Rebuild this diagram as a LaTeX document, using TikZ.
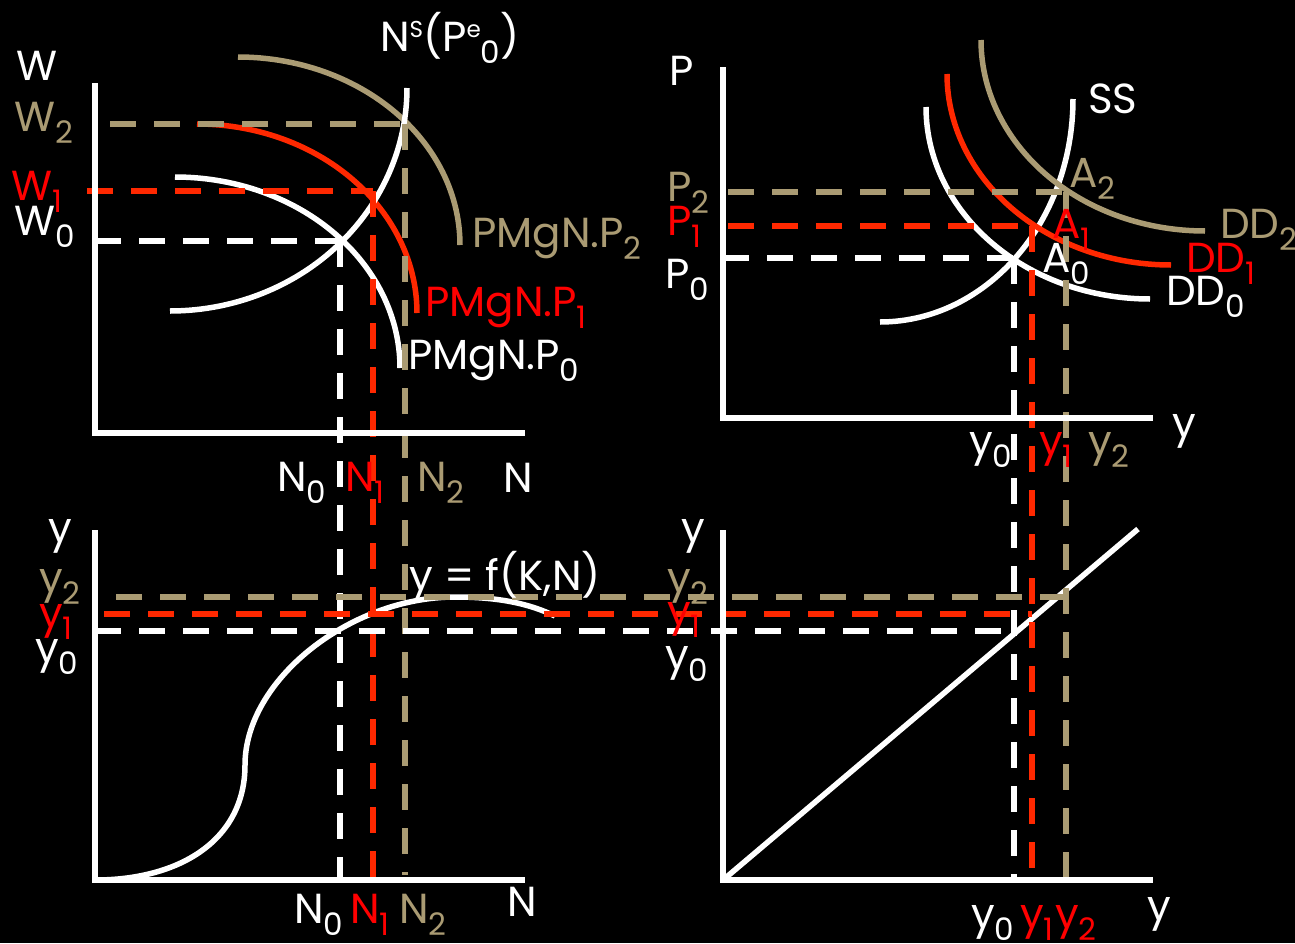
\documentclass[tikz,border=0pt]{standalone}
\usepackage{fontspec}
\setmainfont{Poppins}
\definecolor{tanc}{RGB}{170,155,115}
\definecolor{redl}{RGB}{255,40,0}
\definecolor{redt}{RGB}{255,0,0}
\newcommand{\lsub}[1]{\raisebox{-12pt}{\fontsize{31}{31}\selectfont #1}}
\newcommand{\lsup}[1]{\raisebox{14pt}{\fontsize{23}{23}\selectfont #1}}
\tikzset{
  lbl/.style={anchor=base west, inner sep=0pt, font=\fontsize{42}{42}\selectfont},
  curve/.style={line width=5.5pt},
  axis/.style={line width=5.5pt, white},
  dsh/.style={line width=6pt, dash pattern=on 26pt off 18pt},
}
\begin{document}
\begin{tikzpicture}[x=1pt,y=-1pt]
\fill[black] (0,0) rectangle (1295,943);
\useasboundingbox (0,0) rectangle (1295,943);

% ---------- top-left: labour market ----------
\draw[curve,tanc] plot[domain=0:90,samples=60] ({238+222*sin(\x)},{245-188*cos(\x)});
\draw[curve,redl] plot[domain=0:90,samples=60] ({197+220*sin(\x)},{313-189*cos(\x)});
\draw[curve,white] plot[domain=0:90,samples=60] ({175+225*sin(\x)},{368-191*cos(\x)});
\draw[curve,white] plot[domain=0:90,samples=60] ({170+237*sin(\x)},{88+223*cos(\x)});

% ---------- top-right: AS-AD ----------
\draw[curve,white] plot[domain=0:90,samples=60] ({880+193*sin(\x)},{99+223*cos(\x)});
\draw[curve,white] plot[domain=0:90,samples=60] ({1150-224*cos(\x)},{107+192*sin(\x)});
\draw[curve,redl] plot[domain=0:90,samples=60] ({1171-224*cos(\x)},{74+191*sin(\x)});
\draw[curve,tanc] plot[domain=0:90,samples=60] ({1205-224*cos(\x)},{40+191*sin(\x)});

% ---------- bottom-left: production function ----------
\draw[curve,white] (95,880) .. controls (180,880) and (245,840) .. (245,765)
  .. controls (245,680) and (350,597) .. (455,597)
  .. controls (500,597) and (530,604) .. (555,616);

% ---------- bottom-right: 45 degree line ----------
\coordinate (o4) at (723,880);
\coordinate (d4) at (1138,529);
\draw[curve,white] (o4) -- (d4);

% ---------- dashed guides ----------
\draw[dsh,tanc] (110,124) -- (405,124);
\draw[dsh,tanc] (405,124) -- (405,875);
\draw[dsh,redl] (87,191) -- (373,191);
\draw[dsh,redl] (373,191) -- (373,892);
\draw[dsh,white] (95,241) -- (340,241);
\draw[dsh,white] (340,241) -- (340,877);

\draw[dsh,tanc] (728,192) -- (1066,192);
\draw[dsh,tanc] (1066,192) -- (1066,885);
\draw[dsh,redl] (728,226) -- (1032,226);
\draw[dsh,redl] (1032,226) -- (1032,868);
\draw[dsh,white] (723,258) -- (1014,258);
\draw[dsh,white] (1014,258) -- (1014,880);

\draw[dsh,tanc] (116,597) -- (1066,597);
\draw[dsh,redl] (104,614) -- (1032,614);
\draw[dsh,white] (95,631) -- (1014,631);

% ---------- axes ----------
\draw[axis] (95,83) -- (95,433) -- (525,433);
\draw[axis] (723,67) -- (723,418) -- (1153,418);
\draw[axis] (95,530) -- (95,880) -- (525,880);
\draw[axis] (723,530) -- (723,880) -- (1153,880);

% ---------- labels top-left ----------
\node[lbl,white] (lW) at (16,80) {W};
\node[lbl,tanc] (lW2) at (14,131) {W\lsub{2}};
\node[lbl,redt] (lW1) at (11,200) {W\lsub{1}};
\node[lbl,white] (lW0) at (14,235) {W\lsub{0}};
\node[lbl,white] (lNS) at (380,51) {N\lsup{S}(P\lsup{e}\lsub{0})};
\node[lbl,tanc] (lP2) at (472,247) {PMgN.P\lsub{2}};
\node[lbl,redt] (lP1) at (425,316) {PMgN.P\lsub{1}};
\node[lbl,white] (lP0) at (408,369) {PMgN.P\lsub{0}};
\node[lbl,white] (tN0) at (277,491) {N\lsub{0}};
\node[lbl,redt] (tN1) at (345,491) {N\lsub{1}};
\node[lbl,tanc] (tN2) at (417,491) {N\lsub{2}};
\node[lbl,white] (tN) at (503,492) {N};

% ---------- labels top-right ----------
\node[lbl,white] (lP) at (669,85) {P};
\node[lbl,tanc] (lPP2) at (667,201) {P\lsub{2}};
\node[lbl,redt] (lPP1) at (667,235) {P\lsub{1}};
\node[lbl,white] (lPP0) at (665,288) {P\lsub{0}};
\node[lbl,white] (lSS) at (1088,113) {SS};
\node[lbl,tanc] (lA2) at (1069,187) {A\lsub{2}};
\node[lbl,redt] (lA1) at (1052,238) {A\lsub{1}};
\node[lbl,white] (lA0) at (1042,272) {A\lsub{0}};
\node[lbl,tanc] (lDD2) at (1220,238) {DD\lsub{2}};
\node[lbl,redt] (lDD1) at (1186,272) {DD\lsub{1}};
\node[lbl,white] (lDD0) at (1166,305) {DD\lsub{0}};
\node[lbl,white] (ty) at (1172,437) {y};
\node[lbl,white] (ty0) at (969,455) {y\lsub{0}};
\node[lbl,redt] (ty1) at (1039,455) {y\lsub{1}};
\node[lbl,tanc] (ty2) at (1088,455) {y\lsub{2}};

% ---------- labels bottom-left ----------
\node[lbl,white] (by) at (48,542) {y};
\node[lbl,tanc] (by2) at (39,592) {y\lsub{2}};
\node[lbl,redt] (by1) at (39,627) {y\lsub{1}};
\node[lbl,white] (by0) at (35,662) {y\lsub{0}};
\node[lbl,white] (lf) at (409,590) {y = f(K,N)};
\node[lbl,white] (bN0) at (294,923) {N\lsub{0}};
\node[lbl,redt] (bN1) at (350,923) {N\lsub{1}};
\node[lbl,tanc] (bN2) at (399,923) {N\lsub{2}};
\node[lbl,white] (bN) at (507,916) {N};

% ---------- labels bottom-right ----------
\node[lbl,white] (ry) at (681,542) {y};
\node[lbl,tanc] (ry2) at (667,592) {y\lsub{2}};
\node[lbl,redt] (ry1) at (667,625) {y\lsub{1}};
\node[lbl,white] (ry0) at (665,669) {y\lsub{0}};
\node[lbl,white] (qy0) at (971,928) {y\lsub{0}};
\node[lbl,redt] (qy1) at (1020,928) {y\lsub{1}};
\node[lbl,redt] (qy2) at (1055,928) {y\lsub{2}};
\node[lbl,white] (qy) at (1147,920) {y};
\end{tikzpicture}
\end{document}
